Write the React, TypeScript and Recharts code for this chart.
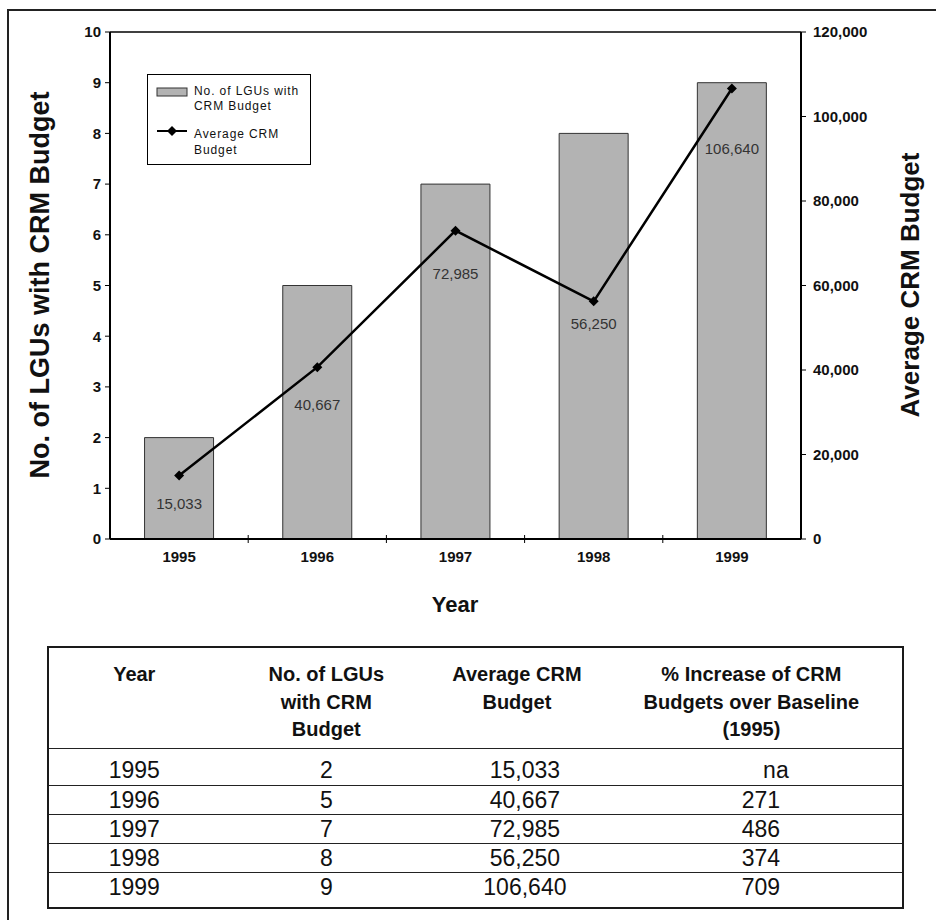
import React from "react";
import {
  ComposedChart,
  Bar,
  Line,
  XAxis,
  YAxis,
  Legend,
  ReferenceLine,
  LabelList,
} from "recharts";

const years = ["1995", "1996", "1997", "1998", "1999"];
const lguCounts = [2, 5, 7, 8, 9];
const avgBudgets = [15033, 40667, 72985, 56250, 106640];
const pctIncrease = ["na", "271", "486", "374", "709"];
const leftTicks = [0, 1, 2, 3, 4, 5, 6, 7, 8, 9, 10];
const rightTicks = [0, 20000, 40000, 60000, 80000, 100000, 120000];

const tableHeaders = [
  "Year",
  "No. of LGUs\nwith CRM\nBudget",
  "Average CRM\nBudget",
  "% Increase of CRM\nBudgets over Baseline\n(1995)",
];

const chartData = years.map((year, i) => ({
  year,
  lgus: lguCounts[i],
  budget: avgBudgets[i],
}));

// label nudges below each point (the original labels were placed by hand)
const labelDy = [28, 37, 43, 22, 60];

const FONT = '"Liberation Sans", Arial, Helvetica, sans-serif';
const PLOT_W = 691;
const BAND = PLOT_W / years.length;

const fmt = (v: number) => v.toLocaleString("en-US");

function YearTick(props: any) {
  const { x, y, payload, index } = props;
  return (
    <g>
      <text
        x={x}
        y={y + 17}
        textAnchor="middle"
        dominantBaseline="central"
        fontFamily={FONT}
        fontSize={15}
        fontWeight="bold"
        fill="#111"
      >
        {payload.value}
      </text>
      {index < years.length - 1 && (
        <line x1={x + BAND / 2} x2={x + BAND / 2} y1={y - 4} y2={y + 4} stroke="#000" strokeWidth={1} />
      )}
    </g>
  );
}

function Diamond(props: any) {
  const { cx, cy, index } = props;
  const r = 5;
  return (
    <path
      key={"d" + index}
      d={`M${cx},${cy - r}L${cx + r},${cy}L${cx},${cy + r}L${cx - r},${cy}Z`}
      fill="#000"
    />
  );
}

function BudgetLabel(props: any) {
  const { x, y, value, index } = props;
  return (
    <text
      x={x}
      y={y + labelDy[index]}
      textAnchor="middle"
      dominantBaseline="central"
      fontFamily={FONT}
      fontSize={15}
      fill="#333"
    >
      {fmt(value)}
    </text>
  );
}

function LegendBox(props: any) {
  const payload = props.payload || [];
  const barItem = payload.find((p: any) => p.dataKey === "lgus");
  const lineItem = payload.find((p: any) => p.dataKey === "budget");
  const textStyle: React.CSSProperties = {
    position: "absolute",
    left: 46,
    width: 114,
    fontSize: 12,
    letterSpacing: 0.9,
    fontFamily: FONT,
    color: "#111",
  };
  return (
    <div
      style={{
        position: "relative",
        width: 164,
        height: 91,
        border: "1px solid #000",
        background: "#fff",
        boxSizing: "border-box",
      }}
    >
      <svg width={162} height={89} style={{ position: "absolute", left: 0, top: 0 }}>
        <rect x={9} y={13} width={30} height={8} fill="#b3b3b3" stroke="#333" strokeWidth={1} />
        <line x1={9} x2={39} y1={56} y2={56} stroke="#000" strokeWidth={2} />
        <path d="M24,51L29,56L24,61L19,56Z" fill="#000" />
      </svg>
      <div style={{ ...textStyle, top: 9, lineHeight: "15px" }}>{barItem ? barItem.value : ""}</div>
      <div style={{ ...textStyle, top: 51, lineHeight: "16px" }}>{lineItem ? lineItem.value : ""}</div>
    </div>
  );
}

export default function App() {
  const titleStyle: React.CSSProperties = {
    position: "absolute",
    whiteSpace: "nowrap",
    fontFamily: FONT,
    fontWeight: "bold",
    color: "#111",
  };
  const rowHeights = [37, 29, 28, 28, 36];
  const rowPadTop = [7, 0, 0, 0, 0];

  return (
    <div
      style={{
        position: "absolute",
        left: 0,
        top: 0,
        width: 936,
        height: 920,
        background: "#fff",
        overflow: "hidden",
        fontFamily: FONT,
      }}
    >
      {/* page frame, runs off the right and bottom edges */}
      <div
        style={{
          position: "absolute",
          left: 7,
          top: 9,
          width: 960,
          height: 960,
          borderTop: "2.5px solid #222",
          borderLeft: "2.5px solid #222",
        }}
      />

      <div style={{ position: "absolute", left: 0, top: 0 }}>
        <ComposedChart
          width={936}
          height={600}
          data={chartData}
          margin={{ top: 32, right: 75, bottom: 31, left: 70 }}
          barCategoryGap="25%"
        >
          <XAxis
            dataKey="year"
            height={30}
            axisLine={{ stroke: "#000", strokeWidth: 2 }}
            tickLine={false}
            tickSize={0}
            tickMargin={0}
            tick={<YearTick />}
            interval={0}
          />
          <YAxis
            yAxisId="left"
            domain={[0, 10]}
            ticks={leftTicks}
            width={40}
            interval={0}
            axisLine={{ stroke: "#000", strokeWidth: 2 }}
            tickLine={{ stroke: "#000" }}
            tickSize={5}
            tickMargin={4}
            tick={{ fontSize: 15, fontWeight: "bold", fill: "#111", fontFamily: FONT }}
          />
          <YAxis
            yAxisId="right"
            orientation="right"
            domain={[0, 120000]}
            ticks={rightTicks}
            width={60}
            interval={0}
            tickFormatter={fmt}
            axisLine={{ stroke: "#000", strokeWidth: 2 }}
            tickLine={{ stroke: "#000" }}
            tickSize={5}
            tickMargin={7}
            tick={{ fontSize: 15, fontWeight: "bold", fill: "#111", fontFamily: FONT, textAnchor: "start" }}
          />
          <ReferenceLine yAxisId="left" y={10} stroke="#000" strokeWidth={1.5} />
          <Legend
            layout="vertical"
            align="center"
            verticalAlign="middle"
            wrapperStyle={{ left: 147, top: 74, width: 164, height: 91 }}
            content={<LegendBox />}
          />
          <Bar
            yAxisId="left"
            dataKey="lgus"
            name="No. of LGUs with CRM Budget"
            fill="#b3b3b3"
            stroke="#333"
            strokeWidth={1}
            isAnimationActive={false}
          />
          <Line
            yAxisId="right"
            dataKey="budget"
            name="Average CRM Budget"
            type="linear"
            stroke="#000"
            strokeWidth={2.5}
            dot={<Diamond />}
            activeDot={false}
            isAnimationActive={false}
          >
            <LabelList dataKey="budget" content={<BudgetLabel />} />
          </Line>
        </ComposedChart>
      </div>

      <div
        style={{
          ...titleStyle,
          left: 40,
          top: 285,
          fontSize: 27,
          transform: "translate(-50%, -50%) rotate(-90deg)",
        }}
      >
        No. of LGUs with CRM Budget
      </div>
      <div
        style={{
          ...titleStyle,
          left: 910,
          top: 285,
          fontSize: 26,
          transform: "translate(-50%, -50%) rotate(-90deg)",
        }}
      >
        Average CRM Budget
      </div>
      <div
        style={{
          ...titleStyle,
          left: 455,
          top: 605,
          fontSize: 22,
          transform: "translate(-50%, -50%)",
        }}
      >
        Year
      </div>

      <table
        style={{
          position: "absolute",
          left: 47,
          top: 646,
          width: 857,
          height: 259,
          borderCollapse: "collapse",
          border: "2px solid #1a1a1a",
          color: "#111",
          boxSizing: "border-box",
        }}
      >
        <colgroup>
          <col style={{ width: 172 }} />
          <col style={{ width: 214 }} />
          <col style={{ width: 168 }} />
          <col style={{ width: 303 }} />
        </colgroup>
        <tbody>
          <tr style={{ height: 101 }}>
            {tableHeaders.map((h) => (
              <td
                key={h}
                style={{
                  verticalAlign: "top",
                  textAlign: "center",
                  padding: "13px 0 0 0",
                  fontWeight: "bold",
                  fontSize: 20,
                  lineHeight: "27.5px",
                  whiteSpace: "pre-line",
                  borderBottom: "1.5px solid #222",
                }}
              >
                {h}
              </td>
            ))}
          </tr>
          {years.map((year, i) => {
            const cell: React.CSSProperties = {
              verticalAlign: "top",
              textAlign: "center",
              padding: `${rowPadTop[i]}px 0 0 0`,
              fontSize: 23,
              lineHeight: "28px",
              borderTop: i === 0 ? "none" : "1.5px solid #222",
            };
            const pct = pctIncrease[i];
            return (
              <tr key={year} style={{ height: rowHeights[i] }}>
                <td style={cell}>{year}</td>
                <td style={cell}>{lguCounts[i]}</td>
                <td style={{ ...cell, paddingLeft: 16 }}>{fmt(avgBudgets[i])}</td>
                <td style={{ ...cell, paddingLeft: isNaN(Number(pct)) ? 49 : 19 }}>{pct}</td>
              </tr>
            );
          })}
        </tbody>
      </table>
    </div>
  );
}
